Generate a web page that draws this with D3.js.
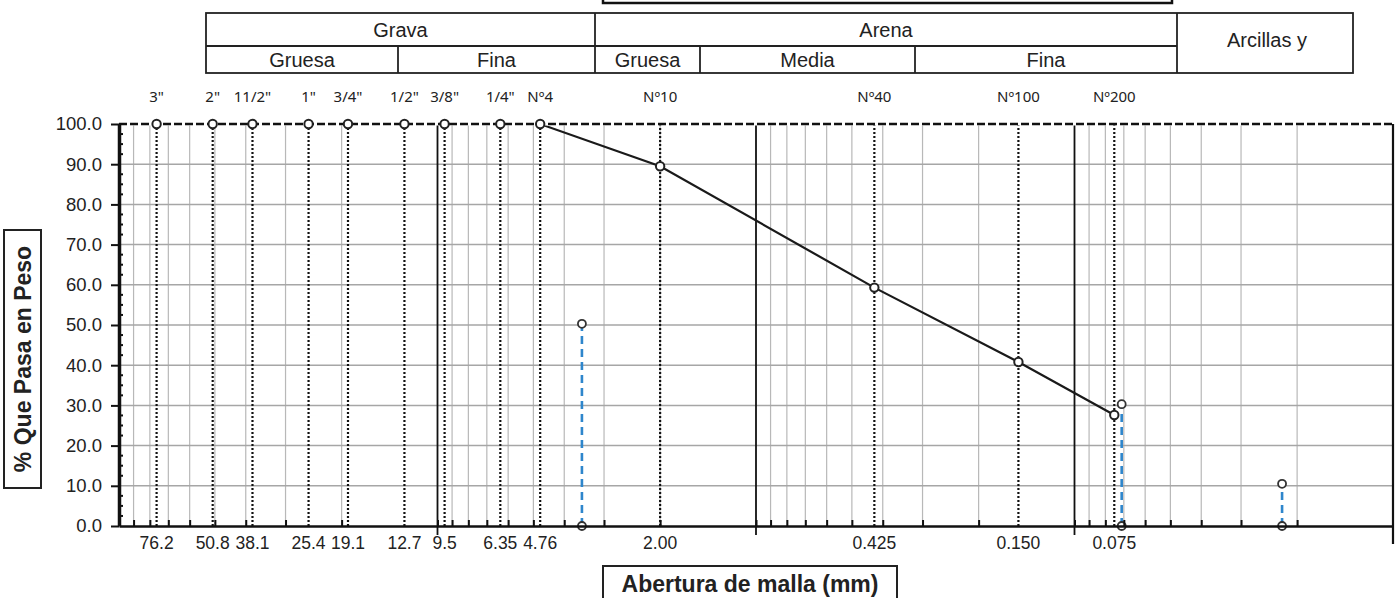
<!DOCTYPE html>
<html>
<head>
<meta charset="utf-8">
<script src="https://cdn.jsdelivr.net/npm/d3@7"></script>
<style>
  body { margin: 0; background: #fff; }
  svg { display: block; }
</style>
</head>
<body>
<div id="chart"></div>
<script>
// tamices y % que pasa
const sieveNames = ['3"', '2"', '11/2"', '1"', '3/4"', '1/2"', '3/8"', '1/4"', 'Nº4', 'Nº10', 'Nº40', 'Nº100', 'Nº200']
const sieveSizes = [76.2, 50.8, 38.1, 25.4, 19.1, 12.7, 9.5, 6.35, 4.76, 2.00, 0.425, 0.150, 0.075]
const sizeLabels = ['76.2', '50.8', '38.1', '25.4', '19.1', '12.7', '9.5', '6.35', '4.76', '2.00', '0.425', '0.150', '0.075']
const pctPassing = [100, 100, 100, 100, 100, 100, 100, 100, 100, 89.5, 59.3, 40.8, 27.6]

// lineas de referencia (azul)
const refSizes = [3.52, 0.0711, 0.0223]
const refTops = [50.3, 30.3, 10.5]

const yTicks = [0, 10, 20, 30, 40, 50, 60, 70, 80, 90, 100]

// clasificacion (cabecera)
const groupNames = ['Grava', 'Arena']
const subNames = ['Gruesa', 'Fina', 'Gruesa', 'Media', 'Fina']

const width = 1400, height = 598
const svg = d3.select('#chart').append('svg')
    .attr('width', width)
    .attr('height', height)

const x = d3.scaleLog().domain([100, 0.01]).range([119, 1393])
const y = d3.scaleLinear().domain([0, 100]).range([526, 124])

const decades = [10, 1, 0.1]
const minor = []
for (let k = -2; k <= 1; k++) {
    for (let m = 2; m <= 9; m++) minor.push(m * Math.pow(10, k))
}

const plot = svg.append('g')

// grid
plot.selectAll('.vgrid').data(minor).join('line')
    .attr('x1', d => x(d)).attr('x2', d => x(d))
    .attr('y1', y(0)).attr('y2', y(100))
    .attr('stroke', '#b8b8b8').attr('stroke-width', 1.2)

plot.selectAll('.hgrid').data(yTicks.slice(1, -1)).join('line')
    .attr('x1', x(100)).attr('x2', x(0.01))
    .attr('y1', d => y(d)).attr('y2', d => y(d))
    .attr('stroke', '#a6a6a6').attr('stroke-width', 1.5)

plot.selectAll('.decade').data(decades).join('line')
    .attr('x1', d => x(d)).attr('x2', d => x(d))
    .attr('y1', y(0) + 9).attr('y2', y(100))
    .attr('stroke', '#111').attr('stroke-width', 1.8)

// tamices: lineas punteadas
plot.selectAll('.sieve').data(sieveSizes).join('line')
    .attr('x1', d => x(d)).attr('x2', d => x(d))
    .attr('y1', y(0)).attr('y2', y(100))
    .attr('stroke', '#111').attr('stroke-width', 2.2)
    .attr('stroke-dasharray', '2,2')

// curva granulometrica
const pts = sieveSizes.map((s, i) => ({ s: s, p: pctPassing[i] }))
const line = d3.line().x(d => x(d.s)).y(d => y(d.p))
plot.append('path')
    .datum(pts)
    .attr('d', line)
    .attr('fill', 'none')
    .attr('stroke', '#1a1a1a')
    .attr('stroke-width', 2.2)

// borde superior discontinuo y borde derecho
plot.append('line')
    .attr('x1', x(100)).attr('x2', x(0.01))
    .attr('y1', y(100)).attr('y2', y(100))
    .attr('stroke', '#fff').attr('stroke-width', 3)
plot.append('line')
    .attr('x1', x(100)).attr('x2', x(0.01))
    .attr('y1', y(100)).attr('y2', y(100))
    .attr('stroke', '#111').attr('stroke-width', 2.4)
    .attr('stroke-dasharray', '8,3')
plot.append('line')
    .attr('x1', x(0.01)).attr('x2', x(0.01))
    .attr('y1', y(100)).attr('y2', y(0) + 18)
    .attr('stroke', '#111').attr('stroke-width', 2.2)

// lineas azules
const refs = refSizes.map((s, i) => ({ s: s, top: refTops[i] }))
plot.selectAll('.ref').data(refs).join('line')
    .attr('x1', d => x(d.s)).attr('x2', d => x(d.s))
    .attr('y1', y(0)).attr('y2', d => y(d.top))
    .attr('stroke', '#2e86cc').attr('stroke-width', 2.6)
    .attr('stroke-dasharray', '8,5')

const refPts = refs.flatMap(d => [{ s: d.s, p: 0 }, { s: d.s, p: d.top }])
plot.selectAll('.refpt').data(refPts).join('circle')
    .attr('cx', d => x(d.s)).attr('cy', d => y(d.p)).attr('r', 4)
    .attr('fill', '#fff').attr('stroke', '#333').attr('stroke-width', 1.8)

// ejes
const yAxis = d3.axisLeft(y).tickValues(yTicks).tickFormat(d => d.toFixed(1)).tickSize(8).tickSizeOuter(0)
const yg = svg.append('g').attr('transform', `translate(${x(100)},0)`).call(yAxis)
yg.select('.domain').attr('stroke', '#111').attr('stroke-width', 3.5)
yg.selectAll('.tick line').attr('stroke', '#111').attr('stroke-width', 2)
yg.selectAll('.tick text')
    .attr('font-family', 'Liberation Sans, Arial, sans-serif')
    .attr('font-size', 18.5).attr('fill', '#222').attr('dx', -6)

const yMinor = d3.range(0, 101, 2.5).filter(d => d % 10 !== 0)
svg.append('g').selectAll('line').data(yMinor).join('line')
    .attr('x1', x(100)).attr('x2', x(100) + 4)
    .attr('y1', d => y(d)).attr('y2', d => y(d))
    .attr('stroke', '#111').attr('stroke-width', 2)

const xAxis = d3.axisBottom(x).tickValues(minor.concat(decades)).tickFormat('').tickSize(-6).tickSizeOuter(0)
const xg = svg.append('g').attr('transform', `translate(0,${y(0)})`).call(xAxis)
xg.select('.domain').attr('stroke', '#111').attr('stroke-width', 2.4)
xg.selectAll('.tick line').attr('stroke', '#111').attr('stroke-width', 2)

svg.append('g').selectAll('text').data(sieveSizes).join('text')
    .attr('x', d => x(d))
    .attr('y', y(0) + 23)
    .attr('text-anchor', 'middle')
    .attr('font-family', 'Liberation Sans, Arial, sans-serif')
    .attr('font-size', 17.5).attr('fill', '#222')
    .text((d, i) => sizeLabels[i])

// marcadores de la curva
plot.selectAll('.pt').data(pts).join('circle')
    .attr('cx', d => x(d.s)).attr('cy', d => y(d.p)).attr('r', 4.2)
    .attr('fill', '#fff').attr('stroke', '#222').attr('stroke-width', 2)

// nombres de tamices arriba
svg.append('g').selectAll('text').data(sieveNames).join('text')
    .attr('x', (d, i) => x(sieveSizes[i]))
    .attr('y', 102)
    .attr('text-anchor', 'middle')
    .attr('font-family', 'Noto Sans, sans-serif')
    .attr('font-size', 15).attr('fill', '#222')
    .text(d => d)

// tabla de clasificacion
const tbl = svg.append('g').attr('fill', 'none').attr('stroke', '#222').attr('stroke-width', 1.8)
const tTop = 13, tMid = 46, tBot = 73
const tLeft = 206, tRight = 1353
const gx = [206, 595, 1177]
const sx = [206, 398, 595, 700, 915, 1177]
tbl.append('rect').attr('x', tLeft).attr('y', tTop).attr('width', tRight - tLeft).attr('height', tBot - tTop)
tbl.append('line').attr('x1', tLeft).attr('x2', gx[2]).attr('y1', tMid).attr('y2', tMid)
tbl.selectAll('.gsep').data(gx.slice(1)).join('line')
    .attr('x1', d => d).attr('x2', d => d).attr('y1', tTop).attr('y2', tBot)
tbl.selectAll('.ssep').data([sx[1], sx[3], sx[4]]).join('line')
    .attr('x1', d => d).attr('x2', d => d).attr('y1', tMid).attr('y2', tBot)

const tText = svg.append('g')
    .attr('font-family', 'Liberation Sans, Arial, sans-serif')
    .attr('font-size', 20).attr('fill', '#222').attr('text-anchor', 'middle')
tText.selectAll('.g').data(groupNames).join('text')
    .attr('x', (d, i) => (gx[i] + gx[i + 1]) / 2)
    .attr('y', (tTop + tMid) / 2 + 7)
    .text(d => d)
tText.selectAll('.s').data(subNames).join('text')
    .attr('x', (d, i) => (sx[i] + sx[i + 1]) / 2)
    .attr('y', (tMid + tBot) / 2 + 7)
    .text(d => d)
tText.append('text')
    .attr('x', (gx[2] + tRight) / 2 + 2)
    .attr('y', (tTop + tBot) / 2 + 4)
    .text('Arcillas y')

// recuadro del titulo (cortado arriba)
svg.append('rect')
    .attr('x', 603).attr('y', -20).attr('width', 569).attr('height', 23)
    .attr('fill', 'none').attr('stroke', '#111').attr('stroke-width', 2.5)

// titulos de ejes
const yt = svg.append('g')
yt.append('rect').attr('x', 4).attr('y', 230).attr('width', 37).attr('height', 258)
    .attr('fill', 'none').attr('stroke', '#222').attr('stroke-width', 2)
yt.append('text')
    .attr('transform', 'translate(31,359) rotate(-90)')
    .attr('text-anchor', 'middle')
    .attr('font-family', 'Liberation Sans, Arial, sans-serif')
    .attr('font-weight', 'bold').attr('font-size', 23).attr('fill', '#222')
    .text('% Que Pasa en Peso')

const xt = svg.append('g')
xt.append('rect').attr('x', 603).attr('y', 566).attr('width', 294).attr('height', 40)
    .attr('fill', 'none').attr('stroke', '#222').attr('stroke-width', 2)
xt.append('text')
    .attr('x', 750).attr('y', 592)
    .attr('text-anchor', 'middle')
    .attr('font-family', 'Liberation Sans, Arial, sans-serif')
    .attr('font-weight', 'bold').attr('font-size', 23).attr('fill', '#222')
    .text('Abertura de malla (mm)')
</script>
</body>
</html>
